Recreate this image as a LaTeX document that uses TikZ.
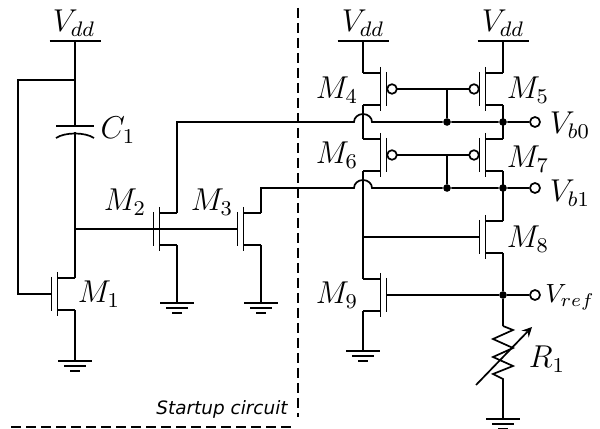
\documentclass[tikz,border=0pt]{standalone}
\usepackage{fontspec}
\newfontfamily\notefont{DejaVu Sans}
\tikzset{
  wire/.style={line width=0.65pt},
  border/.style={line width=0.65pt,dash pattern=on 3.8pt off 1.9pt},
  dot/.style={circle,fill=black,inner sep=0pt,minimum size=2.9pt},
  term/.style={circle,draw,wire,fill=white,inner sep=0pt,minimum size=3.8pt},
  tag/.style={font=\fontsize{11.5}{13}\selectfont},
  nmos/.pic={
    \coordinate (g) at (-23.5,0);
    \coordinate (d) at (0,-16);
    \coordinate (s) at (0,16);
    \draw[wire] (d) -- (-17.5,-16) (-17.5,-22) -- (-17.5,22) (-17.5,16) -- (s);
    \draw[wire] (-23.5,-17) -- (-23.5,17);
  },
  pmos/.pic={
    \coordinate (g) at (-33.5,0);
    \coordinate (d) at (0,-16);
    \coordinate (s) at (0,16);
    \draw[wire] (d) -- (-17.5,-16) (-17.5,-22) -- (-17.5,22) (-17.5,16) -- (s);
    \draw[wire] (-23.5,-17) -- (-23.5,17);
    \draw[wire] (-29,0) circle (4.8);
  },
  ground/.pic={
    \coordinate (t) at (0,0);
    \draw[wire] (-17,0) -- (17,0) (-11,5) -- (11,5) (-5,10) -- (5,10);
  },
  rail/.pic={
    \coordinate (t) at (0,0);
    \draw[wire] (-25.5,0) -- (25.5,0);
  },
  cap/.pic={
    \coordinate (a) at (0,0);
    \coordinate (b) at (0,6);
    \draw[wire] (-19,0) -- (19,0);
    \draw[wire] (-19,12) .. controls (-10,6) and (10,6) .. (19,12);
  },
}
\begin{document}
\begin{tikzpicture}[x=0.38pt,y=-0.38pt]
\useasboundingbox (0,0) rectangle (600,429);
% supplies and ground symbols
\node[tag] (LA) at (74,23) {$V_{dd}$};
\node[tag] (LB) at (363,23) {$V_{dd}$};
\node[tag] (LC) at (503,23) {$V_{dd}$};
\pic (A) at (75,41) {rail};
\pic (B) at (363,41) {rail};
\pic (C) at (503,41) {rail};
\pic (G1) at (75,361) {ground};
\pic (G2) at (177,303) {ground};
\pic (G3) at (261,303) {ground};
\pic (G9) at (363,351) {ground};
\pic (GR) at (503,419) {ground};
% transistors
\pic (M1) at (75,294) {nmos};
\pic (M2) at (177,229) {nmos};
\pic (M3) at (261,229) {nmos};
\pic[xscale=-1] (M4) at (363,89) {pmos};
\pic (M5) at (503,89) {pmos};
\pic[xscale=-1] (M6) at (363,155) {pmos};
\pic (M7) at (503,155) {pmos};
\pic (M8) at (503,237) {nmos};
\pic[xscale=-1] (M9) at (363,295) {nmos};
\pic (C1) at (75,126) {cap};
\node[tag] at (337,90) (TM4) {$M_4$};
\node[tag] at (528,90) (TM5) {$M_5$};
\node[tag] at (337,155) (TM6) {$M_6$};
\node[tag] at (528,159) (TM7) {$M_7$};
\node[tag] at (528,239) (TM8) {$M_8$};
\node[tag] at (337,295) (TM9) {$M_9$};
\node[tag] at (99,294) (TM1) {$M_1$};
\node[tag] at (125,202) (TM2) {$M_2$};
\node[tag] at (212,202) (TM3) {$M_3$};
\node[tag] at (118,130) (TC1) {$C_1$};
\node[tag] at (547,359) (TR1) {$R_1$};
\node[tag] at (570,125) (TB0) {$V_{b0}$};
\node[tag] at (570,193) (TB1) {$V_{b1}$};
\node at (570,297) (TRef) {$V_{ref}$};
\node at (222,409) (TNote) {\notefont\itshape\fontsize{7}{8}\selectfont Startup circuit};
% junctions
\coordinate (Loop) at (75,80);
\coordinate (LoopL) at (18,80);
\coordinate (Tap) at (75,229);
\coordinate (Hop0) at (354,122);
\coordinate (Hop1) at (354,188);
\coordinate (Tie4) at (447,89);
\coordinate (Tie6) at (447,155);
\coordinate (Tap8) at (363,237);
\node[dot] (J0) at (447,122) {};
\node[dot] (K0) at (503,122) {};
\node[dot] (J1) at (447,188) {};
\node[dot] (K1) at (503,188) {};
\node[dot] (KR) at (503,295) {};
\node[term] (T0) at (535,122) {};
\node[term] (T1) at (535,188) {};
\node[term] (TR) at (535,295) {};
\coordinate (R1a) at (503,326);
\coordinate (R1b) at (503,379);
\coordinate (Ar1) at (476,385);
\coordinate (Ar2) at (532,327);
% wires
\draw[wire] (At) -- (C1a) (C1b) -- (M1d) (M1s) -- (G1t);
\draw[wire] (Loop) -- (LoopL) |- (M1g);
\draw[wire] (Tap) -- (M3g);
\draw[wire] (M2s) -- (G2t) (M3s) -- (G3t);
\draw[wire] (M2d) |- (Hop0) arc[start angle=180,end angle=360,x radius=9,y radius=8] -- (J0) -- (K0) -- (T0);
\draw[wire] (M3d) |- (Hop1) arc[start angle=180,end angle=360,x radius=9,y radius=8] -- (J1) -- (K1) -- (T1);
\draw[wire] (Bt) -- (M4d) (M4s) -- (M6d) (M6s) -- (M9d) (M9s) -- (G9t);
\draw[wire] (Ct) -- (M5d) (M5s) -- (M7d) (M7s) -- (M8d) (M8s) -- (KR) -- (R1a);
\draw[wire] (M4g) -- (M5g) (M6g) -- (M7g);
\draw[wire] (Tie4) -- (J0) (Tie6) -- (J1);
\draw[wire] (Tap8) -- (M8g);
\draw[wire] (M9g) -- (KR) -- (TR);
\draw[wire] (R1a) -- (513,330) -- (493,339) -- (513,348) -- (493,357) -- (513,366) -- (493,374) -- (R1b) -- (GRt);
\draw[wire,->,>=stealth] (Ar1) -- (Ar2);
% box round the startup part
\coordinate (BoxT) at (298,8);
\coordinate (BoxB) at (298,417);
\coordinate (BoxL) at (11,427);
\coordinate (BoxR) at (295,427);
\draw[border] (BoxT) -- (BoxB);
\draw[border] (BoxL) -- (BoxR);
\end{tikzpicture}
\end{document}
